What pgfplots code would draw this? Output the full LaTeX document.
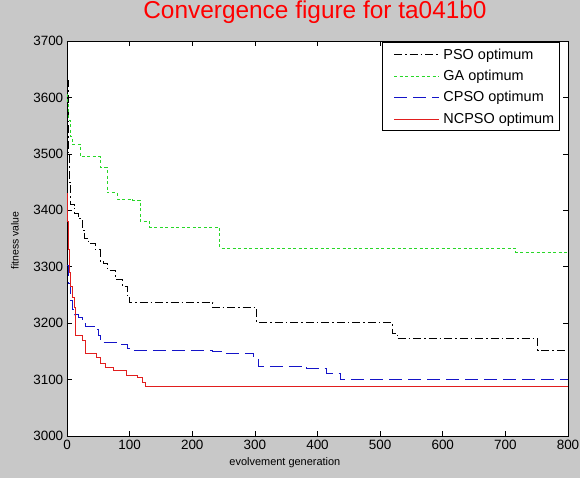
\documentclass[border=0pt]{standalone}
\usepackage{pgfplots}
\pgfplotsset{compat=1.18}
\usepackage{fontspec}
\setmainfont{Liberation Sans}
\definecolor{figbg}{RGB}{200,200,200}
\definecolor{gacol}{RGB}{40,215,40}
\definecolor{cpsocol}{RGB}{20,20,200}
\definecolor{ncpsocol}{RGB}{225,30,30}
\begin{document}
\begin{tikzpicture}
\useasboundingbox (-67bp,-42bp) rectangle (513bp,436bp);
\fill[figbg] (-67bp,-42bp) rectangle (513bp,436bp);
\begin{axis}[
  at={(0,0)}, anchor=south west,
  scale only axis, width=501bp, height=395bp,
  xmin=0, xmax=800, ymin=3000, ymax=3700,
  xtick={0,100,...,800}, ytick={3000,3100,...,3700},
  tick align=inside, major tick length=5bp,
  axis background/.style={fill=white},
  axis line style={black, line width=0.8bp},
  tick style={black, line width=0.6bp},
  ticklabel style={font=\fontsize{13.5}{15}\selectfont},
  /pgf/number format/assume math mode=true,
  /pgf/number format/1000 sep={},
  title={Convergence figure for ta041b0},
  title style={at={(axis description cs:0.495,1)}, anchor=center, yshift=23bp, text=red, font=\fontsize{24.5}{27}\selectfont},
  xlabel={evolvement generation},
  xlabel style={at={(axis description cs:0.435,0)}, anchor=center, yshift=-27bp, font=\fontsize{11}{12}\selectfont},
  ylabel={fitness value},
  ylabel style={at={(axis description cs:-0.104,0.495)}, anchor=center, font=\fontsize{10.5}{12}\selectfont},
  legend style={at={(axis description cs:0.629,0.997)}, anchor=north west, draw=black, fill=white,
    font=\fontsize{14.5}{17}\selectfont, row sep=5.5bp, inner xsep=3bp, inner ysep=4bp},
  legend cell align=left,
  legend image code/.code={\path (0bp,0bp) (55bp,0bp); \draw[#1] (8bp,0bp) -- (53bp,0bp);},
  line width=0.9bp,
]
\addplot[black, const plot, dash pattern=on 8bp off 3bp on 1.5bp off 3bp] coordinates {
(0,3630)(2,3560)(3,3500)(4,3450)(6,3410)(12,3395)(18,3385)(24,3365)(28,3350)(34,3342)
(45,3330)(53,3310)(58,3305)(65,3294)(78,3278)(88,3265)(96,3245)(99,3237)(233,3227)
(303,3202)(519,3182)(527,3172)(752,3152)(800,3152)};
\addlegendentry{PSO optimum}
\addplot[gacol, const plot, dash pattern=on 3bp off 2.5bp] coordinates {
(0,3605)(1,3590)(3,3560)(5,3530)(8,3517)(21,3495)(53,3476)(64,3431)(80,3420)(105,3418)
(117,3380)(132,3370)(244,3333)(716,3326)(800,3326)};
\addlegendentry{GA optimum}
\addplot[cpsocol, const plot, dash pattern=on 13bp off 6bp] coordinates {
(0,3303)(3,3270)(5,3240)(8,3225)(12,3215)(18,3210)(24,3200)(30,3195)(42,3195)(46,3188)
(50,3178)(53,3166)(85,3163)(97,3156)(103,3152)(232,3150)(250,3147)(298,3138)(305,3124)
(383,3120)(415,3111)(437,3100)(800,3100)};
\addlegendentry{CPSO optimum}
\addplot[ncpsocol, const plot] coordinates {
(0,3430)(1,3380)(2,3330)(4,3290)(6,3265)(9,3245)(12,3227)(13,3179)(24,3170)(29,3147)
(47,3140)(53,3129)(61,3122)(74,3117)(95,3108)(113,3103)(120,3095)(125,3087)(800,3087)};
\addlegendentry{NCPSO optimum}
\end{axis}
\end{tikzpicture}
\end{document}
